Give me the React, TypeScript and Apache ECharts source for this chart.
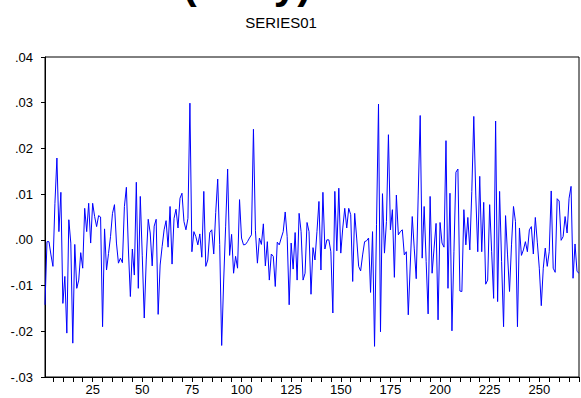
import React, { useEffect, useRef } from "react";
import * as echarts from "echarts";

const TOP_TITLE = "(Daily)";
const SUBTITLE = "SERIES01";

// observation numbers 1..270
const observations: string[] = Array.from({ length: 270 }, (_, i) => String(i + 1));

const series01: number[] = [
  -0.0142, -0.0004, -0.0004, -0.0033, -0.0058, 0.008, 0.0179, 0.0018, 0.0104, -0.0139,
  -0.008, -0.0204, 0.0044, -0.0007, -0.0226, -0.001, -0.0106, -0.0088, -0.0028, -0.0062,
  0.0069, 0.0018, 0.008, -0.0007, 0.008, 0.0051, 0.0029, 0.0053, 0.005, -0.019,
  0.0024, -0.0066, -0.003, 0.0007, 0.0058, 0.0077, -0.0007, -0.0051, -0.004, -0.005,
  0.0073, 0.0115, -0.002, -0.0124, -0.002, -0.0077, 0.0126, -0.0106, 0.0095, -0.0035,
  -0.0171, -0.0044, 0.0045, 0.0015, -0.0057, 0.003, 0.0045, -0.0163, -0.0055, -0.0015,
  0.0022, 0.0042, -0.0016, 0.0073, -0.0053, 0.0047, 0.0067, 0.0026, 0.0091, 0.0102,
  0.004, 0.0022, 0.0047, 0.0299, -0.0026, 0.0018, 0.0007, -0.0011, 0.0013, -0.0038,
  0.0106, -0.0058, -0.0044, 0.0016, 0.0022, -0.0031, 0.006, 0.0133, -0.001, -0.0231,
  -0.009, 0.003, 0.0155, -0.0034, 0.0012, -0.0073, -0.0036, -0.0062, 0.0088, 0.0004,
  -0.0011, -0.001, -0.0004, 0.0004, 0.0011, 0.0242, 0.002, -0.0051, 0.0004, -0.001,
  0.0035, -0.0057, -0.0004, -0.0088, -0.0031, -0.0036, -0.0102, -0.0005, -0.0011, 0.0004,
  0.0018, 0.0061, 0.0007, -0.0142, -0.0007, -0.0064, 0.0016, -0.0088, 0.0058, 0.0018,
  -0.0088, -0.0073, 0.0038, 0.0018, -0.0119, -0.0017, -0.0044, 0.0018, 0.0084, -0.0066,
  0.0104, -0.002, 0.0, 0.0, -0.0026, -0.016, 0.0106, -0.0024, 0.0113, -0.0029,
  0.0026, 0.0069, 0.0026, 0.0069, 0.0055, -0.0091, 0.0058, 0.0004, -0.0058, -0.0068,
  -0.0033, -0.0004, -0.0002, 0.0004, -0.0115, 0.0018, -0.0233, 0.0033, 0.0297, -0.0201,
  0.0101, -0.0029, 0.004, 0.023, 0.0022, 0.0066, -0.0082, 0.0098, 0.0011, 0.0018,
  0.0022, -0.0033, -0.0026, -0.0164, -0.0055, 0.0051, -0.0018, -0.0085, 0.0098, 0.0272,
  -0.004, 0.0073, -0.0047, -0.0162, 0.0095, -0.0073, -0.0018, 0.0036, -0.0175, 0.0038,
  -0.0007, -0.0016, 0.0217, -0.0106, 0.0102, -0.0199, -0.0026, 0.0148, 0.0155, -0.0112,
  -0.0113, 0.0066, -0.0011, 0.0049, -0.0022, 0.0106, 0.027, 0.0098, -0.0026, 0.0139,
  -0.0026, 0.0082, -0.0097, -0.0088, 0.0077, -0.0026, -0.0128, 0.026, -0.0135, 0.0106,
  -0.0047, -0.019, 0.0053, -0.0033, -0.0113, -0.0011, 0.0073, 0.004, -0.019, 0.0026,
  -0.0034, -0.0022, -0.0004, -0.0026, 0.0022, 0.0029, -0.0031, 0.0049, -0.0005, -0.0062,
  -0.0144, -0.0062, -0.0018, -0.0058, -0.0026, 0.0107, -0.0062, -0.0071, 0.009, 0.0085,
  -0.0001, 0.0007, 0.0051, 0.0015, 0.0091, 0.0117, -0.0084, -0.0009, -0.0069, -0.0073,
];

const X_LABEL_STEP = 25;
const X_TICK_STEP = 5;
const Y_MIN = -0.03;
const Y_MAX = 0.04;
const Y_STEP = 0.01;

const FONT = "Arial, 'Liberation Sans', sans-serif";

function fmtY(v: number): string {
  if (Math.abs(v) < 1e-9) return ".00";
  return v.toFixed(2).replace("0.", ".");
}

export default function App() {
  const ref = useRef<HTMLDivElement>(null);
  useEffect(() => {
    if (!ref.current) return;
    const chart = echarts.init(ref.current, null, { renderer: "svg" });
    chart.setOption({
      animation: false,
      backgroundColor: "#ffffff",
      textStyle: { fontFamily: FONT },
      graphic: [
        {
          type: "text",
          x: 247,
          y: -17,
          style: {
            text: TOP_TITLE,
            fontSize: 42,
            fontWeight: "bold",
            fontFamily: FONT,
            fill: "#000",
            align: "center",
            verticalAlign: "middle",
          },
        },
        {
          type: "text",
          x: 281,
          y: 22,
          style: {
            text: SUBTITLE,
            fontSize: 15,
            fontFamily: FONT,
            fill: "#000",
            align: "center",
            verticalAlign: "middle",
          },
        },
      ],
      grid: {
        left: 45,
        top: 57,
        right: 2,
        bottom: 21,
        show: true,
        borderColor: "#000",
        borderWidth: 1,
        backgroundColor: "transparent",
      },
      xAxis: {
        type: "category",
        data: observations,
        boundaryGap: false,
        axisLine: { show: true, onZero: false, lineStyle: { color: "#000", width: 1 } },
        axisTick: {
          show: true,
          length: 5,
          interval: (i: number) => (i + 1) % X_TICK_STEP === 0,
          lineStyle: { color: "#000", width: 1 },
        },
        axisLabel: {
          interval: (i: number) => (i + 1) % X_LABEL_STEP === 0,
          fontSize: 13,
          color: "#000",
          margin: 6,
          fontFamily: FONT,
        },
        splitLine: { show: false },
      },
      yAxis: {
        type: "value",
        min: Y_MIN,
        max: Y_MAX,
        interval: Y_STEP,
        axisLine: { show: true, onZero: false, lineStyle: { color: "#000", width: 1 } },
        axisTick: { show: true, length: 4, lineStyle: { color: "#000", width: 1 } },
        axisLabel: {
          formatter: fmtY,
          fontSize: 13,
          color: "#000",
          margin: 12,
          fontFamily: FONT,
        },
        splitLine: { show: false },
      },
      series: [
        {
          name: SUBTITLE,
          type: "line",
          data: series01,
          showSymbol: false,
          symbol: "none",
          lineStyle: { color: "#0000ff", width: 1 },
          itemStyle: { color: "#0000ff" },
        },
      ],
    });
    return () => chart.dispose();
  }, []);
  return (
    <div
      ref={ref}
      style={{ position: "fixed", left: 0, top: 0, width: 581, height: 398 }}
    />
  );
}
